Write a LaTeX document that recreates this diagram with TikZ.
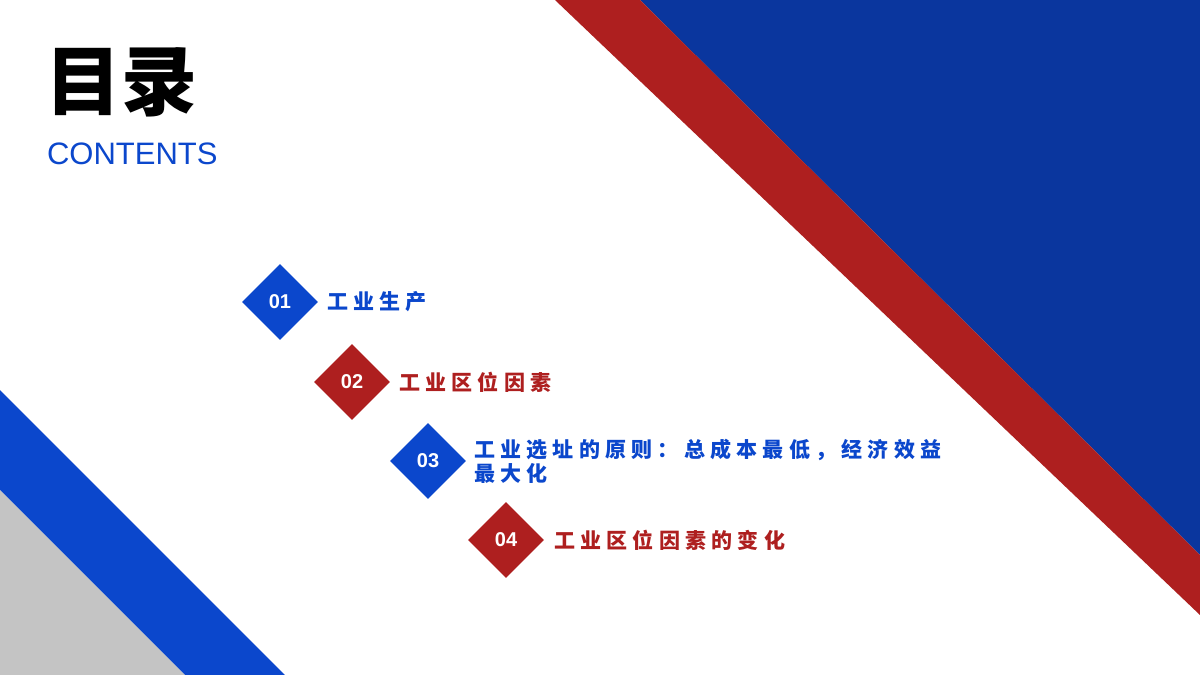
\documentclass[tikz,border=0pt]{standalone}
\usepackage{fontspec}
\setmainfont{Liberation Sans}
\newfontfamily\cjk{Noto Sans CJK SC}
\newfontfamily\cjkwide[LetterSpace=25]{Noto Sans CJK SC}
\usetikzlibrary{shapes.geometric}
\definecolor{tblue}{HTML}{0B47CC}
\definecolor{dblue}{HTML}{0A369E}
\definecolor{tred}{HTML}{AE1F1F}
\definecolor{tgray}{HTML}{C4C4C4}
\begin{document}
\begin{tikzpicture}[x=0.5pt,y=-0.5pt,
        gem/.style={diamond, minimum size=38pt, inner sep=0pt, text=white, font=\bfseries\fontsize{10}{12}\selectfont},
        item/.style={anchor=west, font=\cjkwide\bfseries\fontsize{10.5}{12}\selectfont, align=left}
    ]
        % Hintergrund
        \useasboundingbox (0,0) rectangle (1200,675);
        \fill[white] (0,0) rectangle (1200,675);
        \fill[dblue] (640,0) -- (1200,0) -- (1200,555) -- cycle;
        \fill[tred] (555,0) -- (640,0) -- (1200,555) -- (1200,615) -- cycle;
        \fill[tblue] (0,390) -- (285,675) -- (185,675) -- (0,490) -- cycle;
        \fill[tgray] (0,490) -- (185,675) -- (0,675) -- cycle;

        % Titel
        \node[anchor=west, font=\cjk\bfseries\fontsize{38}{42}\selectfont] (title) at (38,82) {目录};
        \node[anchor=west, text=tblue, font=\fontsize{15.5}{18}\selectfont] (sub) at (40,154) {CONTENTS};

        % Eintraege
        \node[gem, fill=tblue] (d1) at (280,302) {01};
        \node[gem, fill=tred] (d2) at (352,382) {02};
        \node[gem, fill=tblue] (d3) at (428,461) {03};
        \node[gem, fill=tred] (d4) at (506,540) {04};
        \node[item, text=tblue] (t1) at (320,302) {工业生产};
        \node[item, text=tred] (t2) at (392,382) {工业区位因素};
        \node[item, text=tblue] (t3) at (467,461) {工业选址的原则：总成本最低，经济效益\\最大化};
        \node[item, text=tred] (t4) at (547,540) {工业区位因素的变化};
    \end{tikzpicture}
\end{document}
